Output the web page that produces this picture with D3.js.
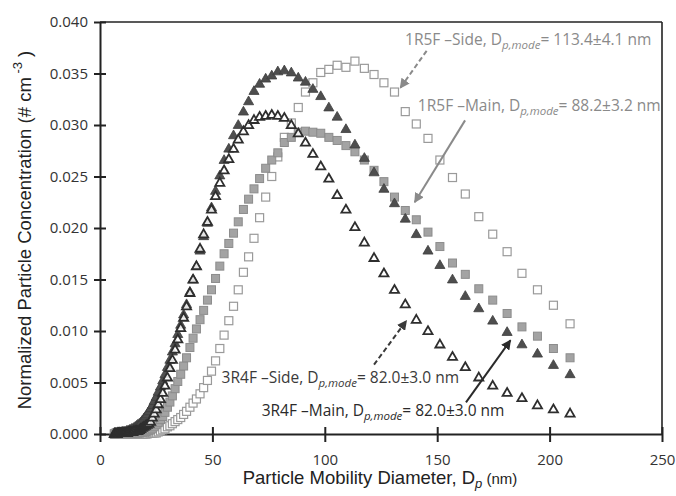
<!DOCTYPE html>
<html>
<head>
<meta charset="utf-8">
<script src="https://cdn.jsdelivr.net/npm/d3@7/dist/d3.min.js"></script>
<style>
  html, body { margin: 0; padding: 0; background: #fff; }
  svg { display: block; }
</style>
</head>
<body>
<div id="chart"></div>
<script>
// ---------------- DATA ----------------
// SMPS bin mid-point diameters (nm)
const diameters = [
  6.38, 6.61, 6.85, 7.10, 7.37, 7.64, 7.91, 8.20, 8.51, 8.82, 9.14, 9.47, 9.82,
  10.2, 10.6, 10.9, 11.3, 11.8, 12.2, 12.6, 13.1, 13.6, 14.1, 14.6, 15.1, 15.7, 16.3, 16.8, 17.5, 18.1, 18.8, 19.5,
  20.2, 20.9, 21.7, 22.5, 23.3, 24.1, 25.0, 25.9, 26.9, 27.9, 28.9, 30.0, 31.1, 32.2, 33.4, 34.6, 35.9, 37.2, 38.5, 40.0,
  41.4, 42.9, 44.5, 46.1, 47.8, 49.6, 51.4, 53.3, 55.2, 57.3, 59.4, 61.5, 63.8, 66.1, 68.5, 71.0, 73.7, 76.4, 79.1, 82.0,
  85.1, 88.2, 91.4, 94.7, 98.2,
  101.8, 105.5, 109.4, 113.4, 117.6, 121.9, 126.3, 131.0, 135.8, 140.7, 145.9, 151.2, 156.8, 162.5, 168.5, 174.7, 181.1,
  187.7, 194.6, 201.7, 209.1
];

// 3R4F - Main (filled dark triangles)
const r3Main = [
  0.0001, 0.0001, 0.0001, 0.0001, 0.0001, 0.0001, 0.0001, 0.0001, 0.0001, 0.0001, 0.0001, 0.0001, 0.0002,
  0.0002, 0.0002, 0.0002, 0.0002, 0.0003, 0.0003, 0.0003, 0.0004, 0.0004, 0.0005, 0.0005, 0.0006, 0.0007, 0.0008, 0.0009, 0.0010, 0.0011, 0.0013, 0.0015,
  0.0017, 0.0019, 0.0022, 0.0025, 0.0028, 0.0032, 0.0036, 0.0041, 0.0046, 0.0052, 0.0058, 0.0065, 0.0072, 0.0080, 0.0088, 0.0097, 0.0106, 0.0116, 0.0126, 0.0138,
  0.0150, 0.0163, 0.0178, 0.0192, 0.0205, 0.0220, 0.0236, 0.0251, 0.0266, 0.0277, 0.0290, 0.0300, 0.0313, 0.0323, 0.0333, 0.0340, 0.0345, 0.0348, 0.0352, 0.0353,
  0.0351, 0.0346, 0.0342, 0.0335, 0.0328,
  0.0317, 0.0308, 0.0296, 0.0281, 0.0268, 0.0254, 0.0238, 0.0224, 0.0209, 0.0194, 0.0178, 0.0164, 0.0150, 0.0134, 0.0122, 0.0110, 0.0099,
  0.0087, 0.0078, 0.0067, 0.0058
];

// 3R4F - Side (open dark triangles)
const r3Side = [
  0.0000, 0.0000, 0.0000, 0.0000, 0.0000, 0.0000, 0.0001, 0.0001, 0.0001, 0.0001, 0.0001, 0.0001, 0.0001,
  0.0001, 0.0001, 0.0001, 0.0001, 0.0001, 0.0001, 0.0002, 0.0002, 0.0002, 0.0002, 0.0002, 0.0003, 0.0003, 0.0003, 0.0003, 0.0004, 0.0005, 0.0006, 0.0007,
  0.0008, 0.0009, 0.0010, 0.0012, 0.0016, 0.0020, 0.0024, 0.0029, 0.0034, 0.0040, 0.0047, 0.0055, 0.0064, 0.0072, 0.0082, 0.0092, 0.0103, 0.0113, 0.0124, 0.0137,
  0.0150, 0.0163, 0.0180, 0.0194, 0.0206, 0.0218, 0.0231, 0.0244, 0.0256, 0.0267, 0.0277, 0.0286, 0.0294, 0.0300, 0.0305, 0.0308, 0.0309, 0.0310, 0.0309, 0.0307,
  0.0300, 0.0292, 0.0283, 0.0272, 0.0260,
  0.0248, 0.0232, 0.0218, 0.0201, 0.0186, 0.0171, 0.0156, 0.0140, 0.0126, 0.0111, 0.0100, 0.0087, 0.0075, 0.0065, 0.0055, 0.0047, 0.0040,
  0.0035, 0.0028, 0.0024, 0.0020
];

// 1R5F - Main (filled gray squares)
const r1Main = [
  0.0000, 0.0000, 0.0000, 0.0001, 0.0001, 0.0001, 0.0001, 0.0001, 0.0001, 0.0001, 0.0001, 0.0001, 0.0001,
  0.0001, 0.0001, 0.0001, 0.0001, 0.0001, 0.0001, 0.0001, 0.0001, 0.0001, 0.0001, 0.0001, 0.0001, 0.0001, 0.0001, 0.0001, 0.0001, 0.0002, 0.0002, 0.0002,
  0.0002, 0.0003, 0.0003, 0.0004, 0.0005, 0.0007, 0.0009, 0.0011, 0.0014, 0.0017, 0.0021, 0.0026, 0.0031, 0.0037, 0.0044, 0.0051, 0.0058, 0.0066, 0.0074, 0.0084,
  0.0093, 0.0102, 0.0111, 0.0120, 0.0130, 0.0140, 0.0151, 0.0163, 0.0175, 0.0185, 0.0195, 0.0206, 0.0218, 0.0228, 0.0238, 0.0248, 0.0258, 0.0266, 0.0273, 0.0283,
  0.0288, 0.0293, 0.0294, 0.0293, 0.0292,
  0.0288, 0.0285, 0.0280, 0.0274, 0.0266, 0.0256, 0.0245, 0.0230, 0.0217, 0.0208, 0.0196, 0.0182, 0.0166, 0.0155, 0.0141, 0.0130, 0.0117,
  0.0104, 0.0095, 0.0083, 0.0074
];

// 1R5F - Side (open light squares)
const r1Side = [
  0.0000, 0.0000, 0.0000, 0.0000, 0.0000, 0.0000, 0.0000, 0.0000, 0.0000, 0.0000, 0.0000, 0.0000, 0.0000,
  0.0000, 0.0000, 0.0000, 0.0000, 0.0000, 0.0000, 0.0000, 0.0000, 0.0000, 0.0000, 0.0000, 0.0000, 0.0000, 0.0000, 0.0000, 0.0000, 0.0000, 0.0000, 0.0000,
  0.0000, 0.0000, 0.0001, 0.0001, 0.0001, 0.0001, 0.0001, 0.0002, 0.0003, 0.0004, 0.0005, 0.0007, 0.0008, 0.0010, 0.0012, 0.0014, 0.0016, 0.0019, 0.0022, 0.0026,
  0.0030, 0.0034, 0.0039, 0.0045, 0.0052, 0.0061, 0.0071, 0.0083, 0.0096, 0.0110, 0.0124, 0.0140, 0.0157, 0.0172, 0.0190, 0.0210, 0.0230, 0.0250, 0.0269, 0.0288,
  0.0302, 0.0317, 0.0332, 0.0341, 0.0351,
  0.0354, 0.0358, 0.0356, 0.0362, 0.0355, 0.0349, 0.0341, 0.0332, 0.0313, 0.0301, 0.0287, 0.0266, 0.0249, 0.0233, 0.0211, 0.0194, 0.0177,
  0.0156, 0.0140, 0.0125, 0.0107
];

const xTicks = [0, 50, 100, 150, 200, 250];
const yTicks = [0.000, 0.005, 0.010, 0.015, 0.020, 0.025, 0.030, 0.035, 0.040];

// Annotations (text start / arrow in data units)
const annotations = [
  { name: "1R5F –Side, D", sub: "p,mode", rest: "= 113.4±4.1 nm", tx: 135.7, ty: 0.0378,
    ax1: 145.3, ay1: 0.0372, ax2: 133.6, ay2: 0.0336, dashed: true, color: "#8a8a8a" },
  { name: "1R5F –Main, D", sub: "p,mode", rest: "= 88.2±3.2 nm", tx: 141.4, ty: 0.0314,
    ax1: 162.4, ay1: 0.03045, ax2: 140.0, ay2: 0.02250, dashed: false, color: "#8a8a8a" },
  { name: "3R4F –Side, D", sub: "p,mode", rest: "= 82.0±3.0 nm", tx: 54.1, ty: 0.00498,
    ax1: 121.9, ay1: 0.00673, ax2: 136.3, ay2: 0.0110, dashed: true, color: "#3a3a3a" },
  { name: "3R4F –Main, D", sub: "p,mode", rest: "= 82.0±3.0 nm", tx: 71.9, ty: 0.00171,
    ax1: 162.8, ay1: 0.00307, ax2: 182.6, ay2: 0.0091, dashed: false, color: "#2a2a2a" }
];

// ---------------- CHART ----------------
const W = 676, H = 496;
const L = 100, R = 662, T = 22, B = 434;

const svg = d3.select("#chart").append("svg").attr("width", W).attr("height", H);

const x = d3.scaleLinear().domain([0, 250]).range([L, R]);
const y = d3.scaleLinear().domain([0, 0.04]).range([B, T]);

// frame (top & right)
svg.append("line").attr("x1", L).attr("x2", R).attr("y1", T).attr("y2", T)
  .attr("stroke", "#222").attr("stroke-width", 1.6);
svg.append("line").attr("x1", R).attr("x2", R).attr("y1", T).attr("y2", B)
  .attr("stroke", "#222").attr("stroke-width", 1.6);

const tickFont = "'Open Sans', 'DejaVu Sans', sans-serif";

// Y axis
const yAxis = svg.append("g").attr("transform", `translate(${L},0)`)
  .call(d3.axisLeft(y).tickValues(yTicks).tickFormat(d3.format(".3f")).tickSizeInner(6).tickSizeOuter(0).tickPadding(6));
yAxis.select(".domain").attr("stroke", "#222").attr("stroke-width", 2);
yAxis.selectAll(".tick line").attr("x1", 6).attr("x2", -6).attr("stroke", "#222").attr("stroke-width", 2);
yAxis.selectAll(".tick text").attr("font-family", tickFont).attr("font-size", 15).attr("fill", "#333");

// X axis
const xAxis = svg.append("g").attr("transform", `translate(0,${B})`)
  .call(d3.axisBottom(x).tickValues(xTicks).tickFormat(d3.format("d")).tickSizeInner(8).tickSizeOuter(0).tickPadding(12));
xAxis.select(".domain").attr("stroke", "#222").attr("stroke-width", 2);
xAxis.selectAll(".tick line").attr("y1", -7).attr("y2", 8).attr("stroke", "#222").attr("stroke-width", 2);
xAxis.selectAll(".tick text").attr("font-family", tickFont).attr("font-size", 15).attr("fill", "#333");

// axis titles
const titleFont = "'Liberation Sans', Arial, sans-serif";
const yt = svg.append("text")
  .attr("transform", `translate(31,${(T + B) / 2 + 2}) rotate(-90)`)
  .attr("text-anchor", "middle")
  .attr("font-family", titleFont).attr("font-size", 18.5).attr("fill", "#222");
yt.append("tspan").text("Normalized Particle Concentration (# cm");
yt.append("tspan").attr("dy", -9).attr("font-size", 13).text(" -3");
yt.append("tspan").attr("dy", 9).text(" )");

const xt = svg.append("text")
  .attr("x", 380).attr("y", 484)
  .attr("text-anchor", "middle")
  .attr("font-family", titleFont).attr("font-size", 18.5).attr("fill", "#222");
xt.append("tspan").text("Particle Mobility Diameter, D");
xt.append("tspan").attr("dy", 4).attr("font-size", 13).attr("font-style", "italic").text("p");
xt.append("tspan").attr("dy", -4).attr("font-size", 15).text(" (nm)");

// ---------------- MARKS ----------------
const pts = (vals) => diameters.map((d, i) => ({ d, v: vals[i] })).filter(p => p.v !== undefined);

const sq = 8;
// 1R5F Side - open light squares
svg.append("g").selectAll("rect").data(pts(r1Side)).join("rect")
  .attr("x", p => x(p.d) - sq / 2).attr("y", p => y(p.v) - sq / 2)
  .attr("width", sq).attr("height", sq)
  .attr("fill", "white").attr("stroke", "#9a9a9a").attr("stroke-width", 1.2);

// 1R5F Main - filled gray squares
svg.append("g").selectAll("rect").data(pts(r1Main)).join("rect")
  .attr("x", p => x(p.d) - sq / 2).attr("y", p => y(p.v) - sq / 2)
  .attr("width", sq).attr("height", sq)
  .attr("fill", "#a3a3a3").attr("stroke", "#8c8c8c").attr("stroke-width", 1);

const triPath = d3.symbol().type(d3.symbolTriangle).size(44);
const triPathOpen = d3.symbol().type(d3.symbolTriangle).size(36);

// 3R4F Main - filled dark triangles
svg.append("g").selectAll("path").data(pts(r3Main)).join("path")
  .attr("d", triPath)
  .attr("transform", p => `translate(${x(p.d)},${y(p.v) + 0.5})`)
  .attr("fill", "#4e4e4e").attr("stroke", "#3e3e3e").attr("stroke-width", 0.8);

// 3R4F Side - open dark triangles
svg.append("g").selectAll("path").data(pts(r3Side)).join("path")
  .attr("d", triPathOpen)
  .attr("transform", p => `translate(${x(p.d)},${y(p.v) + 0.5})`)
  .attr("fill", "white").attr("fill-opacity", 0.85).attr("stroke", "#2e2e2e").attr("stroke-width", 1.8);

// ---------------- ANNOTATIONS ----------------
const defs = svg.append("defs");
annotations.forEach((a, i) => {
  defs.append("marker").attr("id", "ah" + i)
    .attr("viewBox", "0 0 10 10").attr("refX", 9).attr("refY", 5)
    .attr("markerWidth", 5).attr("markerHeight", 5).attr("orient", "auto")
    .attr("markerUnits", "strokeWidth")
    .append("path").attr("d", "M0,0 L10,5 L0,10 z").attr("fill", a.color);
});

const annFont = "'Open Sans', 'DejaVu Sans', sans-serif";
annotations.forEach((a, i) => {
  svg.append("line")
    .attr("x1", x(a.ax1)).attr("y1", y(a.ay1))
    .attr("x2", x(a.ax2)).attr("y2", y(a.ay2))
    .attr("stroke", a.color).attr("stroke-width", 2)
    .attr("stroke-dasharray", a.dashed ? "5,3" : null)
    .attr("marker-end", `url(#ah${i})`);

  const t = svg.append("text")
    .attr("x", x(a.tx)).attr("y", y(a.ty))
    .attr("font-family", annFont).attr("font-size", 15.5).attr("fill", a.color);
  t.append("tspan").text(a.name);
  t.append("tspan").attr("dy", 4).attr("font-size", 11.5).attr("font-style", "italic").text(a.sub);
  t.append("tspan").attr("dy", -4).text(a.rest);
});
</script>
</body>
</html>
